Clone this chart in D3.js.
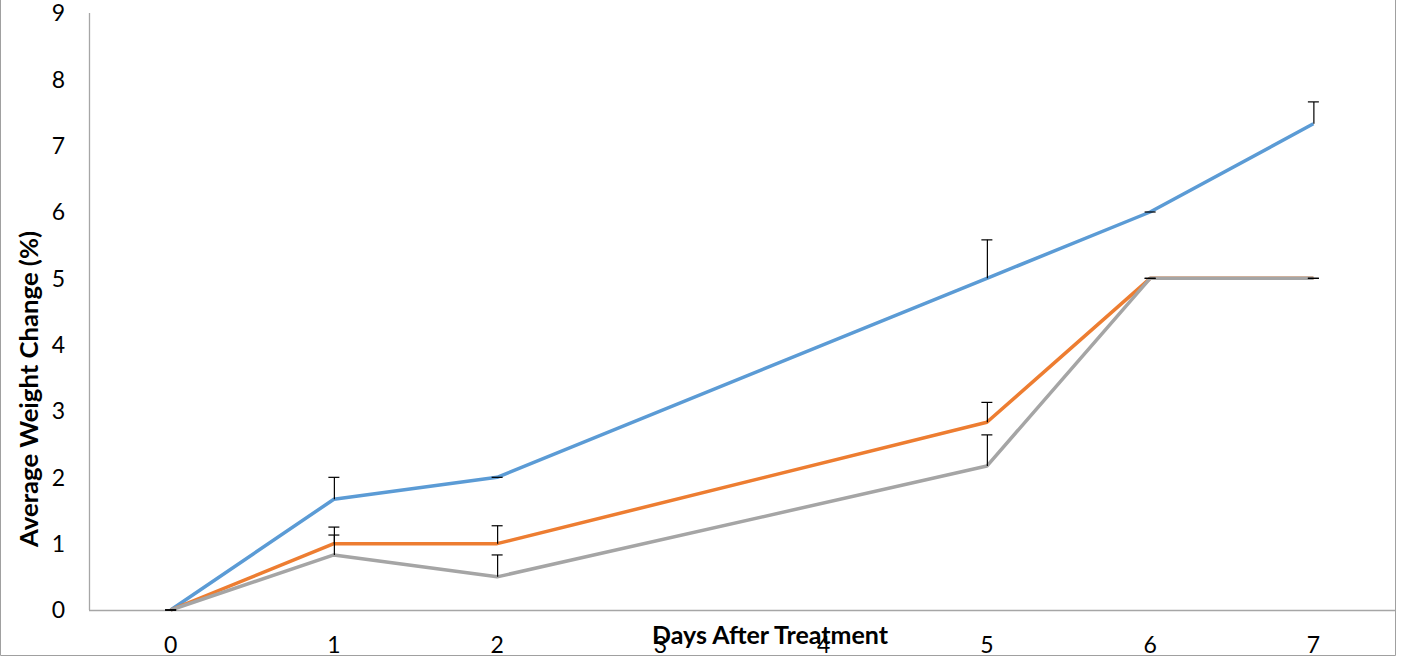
<!DOCTYPE html>
<html>
<head>
<meta charset="utf-8">
<script src="https://cdn.jsdelivr.net/npm/d3@7"></script>
<style>
  body { margin: 0; background: #fff; }
  svg { display: block; }
  .tick-label { font-family: Lato, "Open Sans", sans-serif; font-size: 23px; fill: #000; }
  .axis-title { font-family: Lato, "Open Sans", sans-serif; font-size: 24px; font-weight: bold; fill: #000; }
</style>
</head>
<body>
<div id="chart"></div>
<script>
// data
var days = [0, 1, 2, 5, 6, 7];
var xTicks = [0, 1, 2, 3, 4, 5, 6, 7];
var yTicks = [0, 1, 2, 3, 4, 5, 6, 7, 8, 9];

var seriesNames = ["Series1", "Series2", "Series3"];
var seriesColors = ["#5B9BD5", "#ED7D31", "#A5A5A5"];

var blueValues   = [0, 1.67, 2.0, 5.0, 6.0, 7.33];
var blueErrors   = [0, 0.33, 0,   0.58, 0,  0.33];
var orangeValues = [0, 1.0,  1.0, 2.83, 5.0, 5.0];
var orangeErrors = [0, 0.25, 0.27, 0.3, 0,  0];
var grayValues   = [0, 0.83, 0.5, 2.17, 5.0, 5.0];
var grayErrors   = [0, 0.3,  0.33, 0.47, 0,  0];

var svgwidth = 1405, svgheight = 659;
var margin = {top: 13, right: 10, bottom: 49, left: 89};
var width = 1395 - margin.left,
    height = 610 - margin.top;

var series = [
    {name: seriesNames[0], color: seriesColors[0], values: blueValues, errors: blueErrors},
    {name: seriesNames[1], color: seriesColors[1], values: orangeValues, errors: orangeErrors},
    {name: seriesNames[2], color: seriesColors[2], values: grayValues, errors: grayErrors}
].map(function(s) {
    return {
        name: s.name,
        color: s.color,
        points: days.map(function(d, i) { return {day: d, value: s.values[i], err: s.errors[i]}; })
    };
});

var x = d3.scaleLinear().domain([-0.5, 7.5]).range([0, width]);
var y = d3.scaleLinear().domain([0, 9]).range([height, 0]);

var svg0 = d3.select("#chart").append("svg")
    .attr("width", svgwidth)
    .attr("height", svgheight);

// outer chart border (top is off the picture)
svg0.append("path")
    .attr("d", "M0.5,-5 V655.5 H1395.5 V-5")
    .attr("fill", "none")
    .attr("stroke", "#A0A0A0")
    .attr("stroke-width", 1);

var svg = svg0.append("g")
    .attr("transform", "translate(" + margin.left + "," + margin.top + ")");

// axes lines
svg.append("line")
    .attr("x1", 0.5).attr("x2", 0.5)
    .attr("y1", y(9)).attr("y2", y(0))
    .attr("stroke", "#A6A6A6").attr("stroke-width", 1.3);
svg.append("line")
    .attr("x1", 0).attr("x2", width)
    .attr("y1", y(0) + 0.5).attr("y2", y(0) + 0.5)
    .attr("stroke", "#A6A6A6").attr("stroke-width", 1.3);

// y tick labels
svg.selectAll(".ytick")
    .data(yTicks)
  .enter().append("text")
    .attr("class", "tick-label")
    .attr("x", -24)
    .attr("y", function(d) { return y(d); })
    .attr("dy", "0.36em")
    .style("text-anchor", "end")
    .text(function(d) { return d; });

// x tick labels
svg.selectAll(".xtick")
    .data(xTicks)
  .enter().append("text")
    .attr("class", "tick-label")
    .attr("x", function(d) { return x(d); })
    .attr("y", y(0) + 43)
    .style("text-anchor", "middle")
    .text(function(d) { return d; });

// lines
var line = d3.line()
    .x(function(d) { return x(d.day); })
    .y(function(d) { return y(d.value); });

svg.selectAll(".series")
    .data(series)
  .enter().append("path")
    .attr("class", "series")
    .attr("d", function(d) { return line(d.points); })
    .attr("fill", "none")
    .attr("stroke", function(d) { return d.color; })
    .attr("stroke-width", 3.5)
    .attr("stroke-linejoin", "round");

// error bars (plus side only)
var errPoints = [];
series.forEach(function(s) {
    s.points.forEach(function(p) { errPoints.push(p); });
});

var capHalf = 5.5;
var eb = svg.selectAll(".err")
    .data(errPoints)
  .enter().append("g")
    .attr("class", "err");

eb.append("line")
    .attr("x1", function(d) { return x(d.day) + 0.5; })
    .attr("x2", function(d) { return x(d.day) + 0.5; })
    .attr("y1", function(d) { return y(d.value); })
    .attr("y2", function(d) { return y(d.value + d.err); })
    .attr("stroke", "#000").attr("stroke-width", 1.2);

eb.append("line")
    .attr("x1", function(d) { return x(d.day) - capHalf; })
    .attr("x2", function(d) { return x(d.day) + capHalf; })
    .attr("y1", function(d) { return y(d.value + d.err); })
    .attr("y2", function(d) { return y(d.value + d.err); })
    .attr("stroke", "#000").attr("stroke-width", 1.2);

// axis titles
svg0.append("text")
    .attr("class", "axis-title")
    .attr("x", 770)
    .attr("y", 644)
    .attr("textLength", 236)
    .attr("lengthAdjust", "spacingAndGlyphs")
    .style("text-anchor", "middle")
    .text("Days After Treatment");

svg0.append("text")
    .attr("class", "axis-title")
    .attr("transform", "translate(38,389) rotate(-90)")
    .attr("textLength", 316)
    .attr("lengthAdjust", "spacingAndGlyphs")
    .style("text-anchor", "middle")
    .text("Average Weight Change (%)");
</script>
</body>
</html>
